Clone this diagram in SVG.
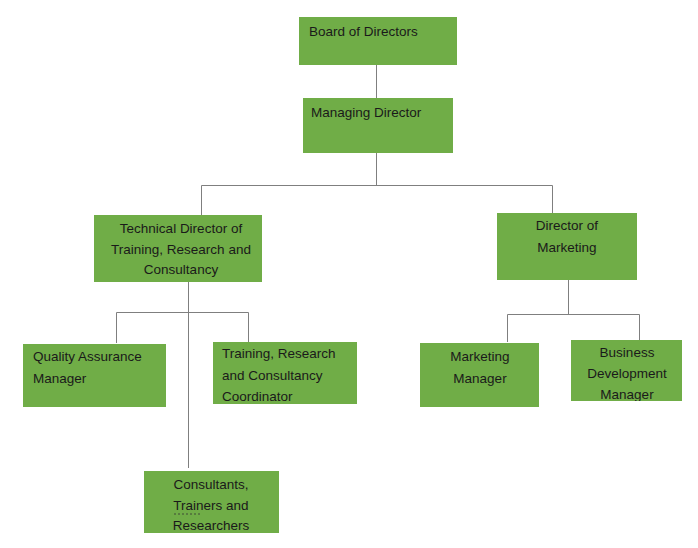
<svg xmlns="http://www.w3.org/2000/svg" width="698" height="548" viewBox="0 0 698 548">
<style>
.box{fill:#70ad47;}
.t{font-family:"Liberation Sans","Open Sans",sans-serif;font-size:13.5px;fill:#1a1a1a;}
.c{text-anchor:middle;}
.ln{stroke:#7f7f7f;stroke-width:1;fill:none;}
</style>
<defs>
<clipPath id="clipTRC"><rect x="213" y="342" width="144" height="62"/></clipPath>
<clipPath id="clipBDM"><rect x="571" y="340" width="111" height="61"/></clipPath>
</defs>
<rect width="698" height="548" fill="#ffffff"/>
<g id="connectors">
<path class="ln" d="M376.5,65 V98"/>
<path class="ln" d="M376.5,153 V185.5 M201.5,215 V185.5 H552.5 V213"/>
<path class="ln" d="M188.5,282 V468"/>
<path class="ln" d="M116.5,343 V312.5 H248.5 V342"/>
<path class="ln" d="M568.5,280 V314.5 M507.5,342 V314.5 H639.5 V341"/>
</g>
<g id="board">
<rect class="box" x="299" y="17" width="158" height="48"/>
<text class="t" x="309" y="36">Board of Directors</text>
</g>
<g id="managing">
<rect class="box" x="303" y="98" width="150" height="55"/>
<text class="t" x="311" y="117">Managing Director</text>
</g>
<g id="technical">
<rect class="box" x="94" y="215" width="168" height="67"/>
<text class="t c" x="181" y="233">Technical Director of</text>
<text class="t c" x="181" y="254">Training, Research and</text>
<text class="t c" x="181" y="274">Consultancy</text>
</g>
<g id="marketing-director">
<rect class="box" x="497" y="213" width="140" height="67"/>
<text class="t c" x="567" y="230">Director of</text>
<text class="t c" x="567" y="252">Marketing</text>
</g>
<g id="qa">
<rect class="box" x="23" y="344" width="143" height="63"/>
<text class="t" x="33" y="361">Quality Assurance</text>
<text class="t" x="33" y="383">Manager</text>
</g>
<g id="trc">
<rect class="box" x="213" y="342" width="144" height="62"/>
<g clip-path="url(#clipTRC)">
<text class="t" x="222" y="358">Training, Research</text>
<text class="t" x="222" y="380">and Consultancy</text>
<text class="t" x="222" y="401">Coordinator</text>
</g>
</g>
<g id="marketing-manager">
<rect class="box" x="420" y="343" width="119" height="64"/>
<text class="t c" x="480" y="361">Marketing</text>
<text class="t c" x="480" y="383">Manager</text>
</g>
<g id="bdm">
<rect class="box" x="571" y="340" width="111" height="61"/>
<g clip-path="url(#clipBDM)">
<text class="t c" x="627" y="357">Business</text>
<text class="t c" x="627" y="378">Development</text>
<text class="t c" x="627" y="399">Manager</text>
</g>
</g>
<g id="consultants">
<rect class="box" x="144" y="471" width="135" height="62"/>
<text class="t c" x="211" y="489">Consultants,</text>
<text class="t c" x="211" y="510">Trainers and</text>
<text class="t c" x="211" y="530">Researchers</text>
<path d="M174,514 H201" stroke="#333" stroke-width="0.8" stroke-dasharray="2,2"/>
</g>
</svg>
